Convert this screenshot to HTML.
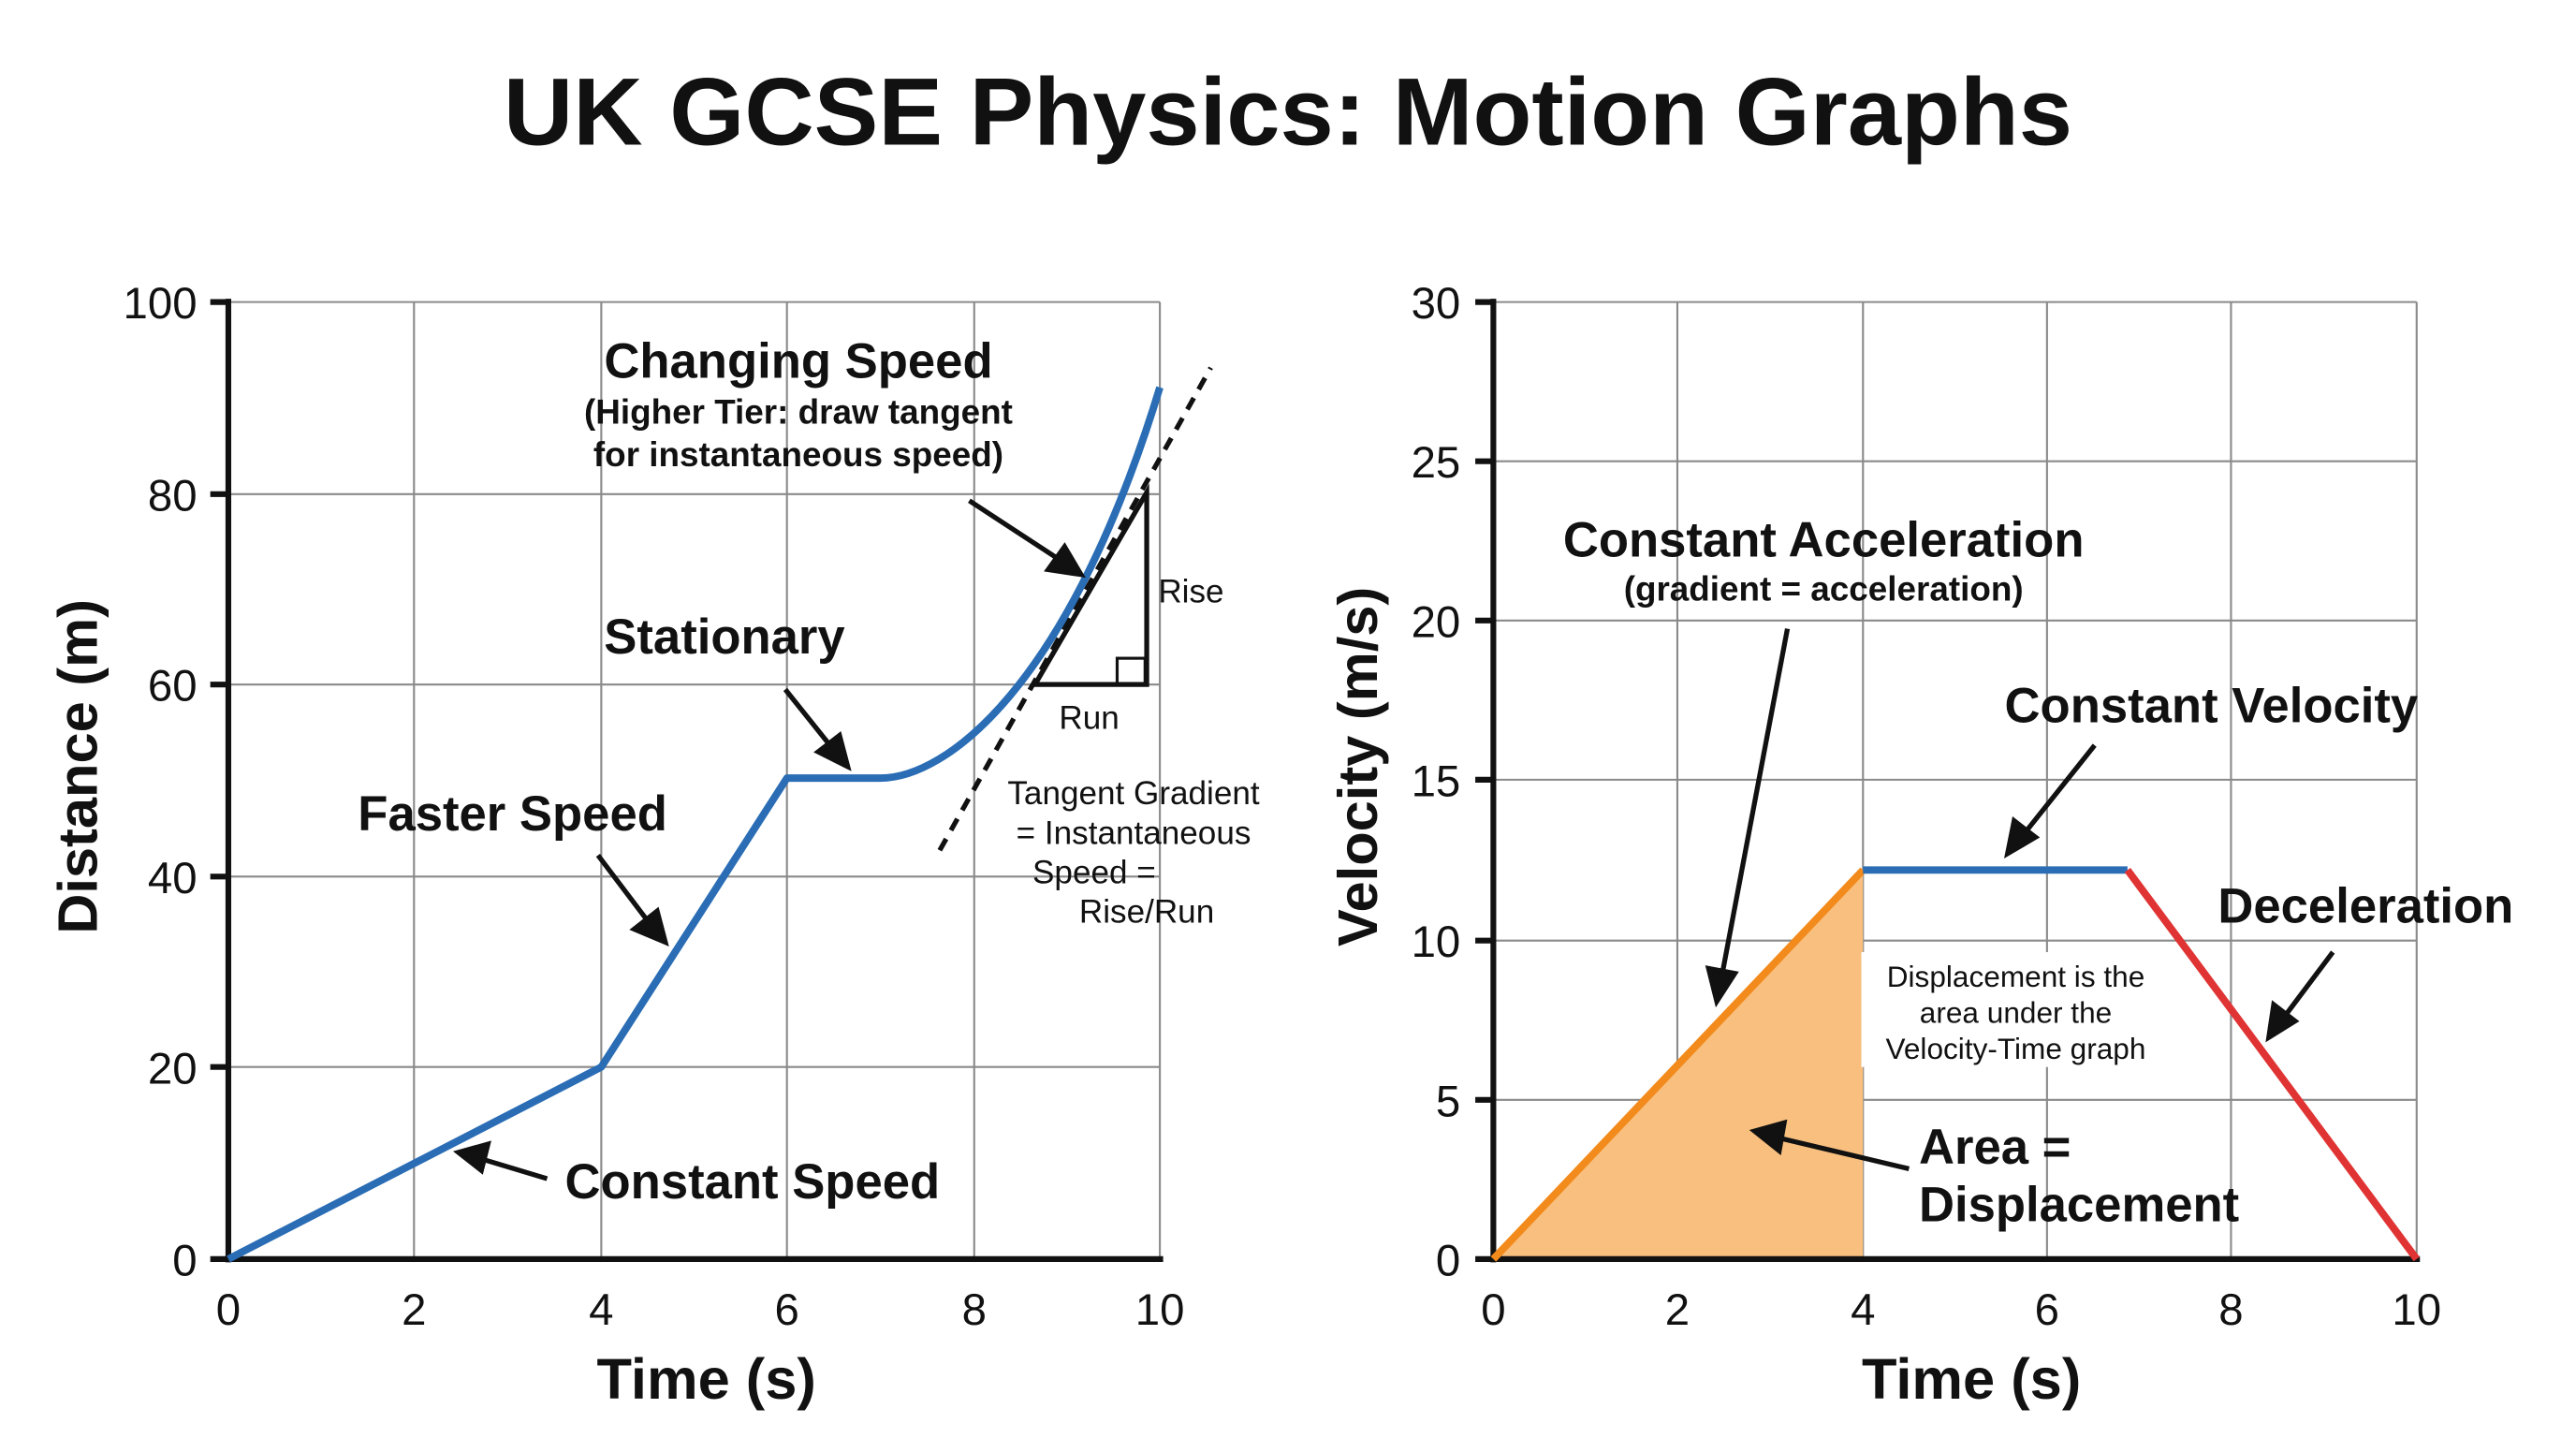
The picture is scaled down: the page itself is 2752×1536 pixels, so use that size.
<!DOCTYPE html>
<html><head><meta charset="utf-8"><style>
html,body{margin:0;padding:0;background:#fff;}
svg{display:block;}
text{font-family:"Liberation Sans","DejaVu Sans",sans-serif;fill:#111;}
.b{font-weight:bold;}
</style></head><body>
<svg width="2752" height="1536" viewBox="0 0 1568 876" preserveAspectRatio="none" xmlns="http://www.w3.org/2000/svg">
<rect width="1568" height="876" fill="#fff"/>
<text x="784" y="88" text-anchor="middle" class="b" font-size="58" textLength="955" lengthAdjust="spacingAndGlyphs">UK GCSE Physics: Motion Graphs</text>

<!-- LEFT CHART -->
<g stroke="#8a8a8a" stroke-width="1.2" fill="none">
<line x1="252" y1="184" x2="252" y2="767"/><line x1="366" y1="184" x2="366" y2="767"/>
<line x1="479" y1="184" x2="479" y2="767"/><line x1="593" y1="184" x2="593" y2="767"/>
<line x1="706" y1="184" x2="706" y2="767"/>
<line x1="139" y1="184" x2="706" y2="184"/><line x1="139" y1="301" x2="706" y2="301"/>
<line x1="139" y1="417" x2="706" y2="417"/><line x1="139" y1="534" x2="706" y2="534"/>
<line x1="139" y1="650" x2="706" y2="650"/>
</g>
<g stroke="#111" stroke-width="3.5">
<line x1="139" y1="182" x2="139" y2="769"/><line x1="137" y1="767" x2="708" y2="767"/>
<line x1="128" y1="184" x2="139" y2="184"/><line x1="128" y1="301" x2="139" y2="301"/><line x1="128" y1="417" x2="139" y2="417"/><line x1="128" y1="534" x2="139" y2="534"/><line x1="128" y1="650" x2="139" y2="650"/><line x1="128" y1="767" x2="139" y2="767"/>
</g>
<g font-size="27" text-anchor="end">
<text x="120" y="194">100</text><text x="120" y="311">80</text><text x="120" y="427">60</text><text x="120" y="544">40</text><text x="120" y="660">20</text><text x="120" y="777">0</text>
</g>
<g font-size="27" text-anchor="middle">
<text x="139" y="807">0</text><text x="252" y="807">2</text><text x="366" y="807">4</text><text x="479" y="807">6</text><text x="593" y="807">8</text><text x="706" y="807">10</text>
</g>
<text x="430" y="852" text-anchor="middle" class="b" font-size="35">Time (s)</text>
<text transform="translate(59,467) rotate(-90)" text-anchor="middle" class="b" font-size="34">Distance (m)</text>

<line x1="572" y1="518" x2="737" y2="224" stroke="#111" stroke-width="3" stroke-dasharray="8,6"/>
<path d="M630,417 L698,417 L698,300 Z" fill="none" stroke="#111" stroke-width="3"/>
<rect x="680" y="401" width="17" height="16" fill="none" stroke="#111" stroke-width="1.8"/>
<path d="M139,767 L366,650 L479,474 L536,474 C575,474 650,420 706,236" fill="none" stroke="#2a6db5" stroke-width="4.5" stroke-linejoin="round"/>

<g stroke="#111" stroke-width="3" fill="#111">
<line x1="590" y1="305" x2="645" y2="341"/><path d="M658,350 L638,347 L648,333 Z"/>
<line x1="478" y1="420" x2="506" y2="455"/><path d="M516,467 L498,458 L511,448 Z"/>
<line x1="364" y1="521" x2="395" y2="562"/><path d="M405,574 L386,566 L400,555 Z"/>
<line x1="333" y1="718" x2="293" y2="706"/><path d="M279,702 L297,697 L293,713 Z"/>
</g>

<text x="486" y="230" text-anchor="middle" class="b" font-size="30">Changing Speed</text>
<text x="486" y="258" text-anchor="middle" class="b" font-size="21">(Higher Tier: draw tangent</text>
<text x="486" y="284" text-anchor="middle" class="b" font-size="21">for instantaneous speed)</text>
<text x="441" y="398" text-anchor="middle" class="b" font-size="30">Stationary</text>
<text x="312" y="506" text-anchor="middle" class="b" font-size="30">Faster Speed</text>
<text x="458" y="730" text-anchor="middle" class="b" font-size="30">Constant Speed</text>
<text x="705" y="367" font-size="20">Rise</text>
<text x="663" y="444" text-anchor="middle" font-size="20">Run</text>
<text x="690" y="490" text-anchor="middle" font-size="20">Tangent Gradient</text>
<text x="690" y="514" text-anchor="middle" font-size="20">= Instantaneous</text>
<text x="666" y="538" text-anchor="middle" font-size="20">Speed =</text>
<text x="698" y="562" text-anchor="middle" font-size="20">Rise/Run</text>

<!-- RIGHT CHART -->
<g stroke="#8a8a8a" stroke-width="1.2" fill="none">
<line x1="1021" y1="184" x2="1021" y2="767"/><line x1="1134" y1="184" x2="1134" y2="767"/>
<line x1="1246" y1="184" x2="1246" y2="767"/><line x1="1358" y1="184" x2="1358" y2="767"/>
<line x1="1471" y1="184" x2="1471" y2="767"/>
<line x1="909" y1="184" x2="1471" y2="184"/><line x1="909" y1="281" x2="1471" y2="281"/>
<line x1="909" y1="378" x2="1471" y2="378"/><line x1="909" y1="475" x2="1471" y2="475"/>
<line x1="909" y1="573" x2="1471" y2="573"/><line x1="909" y1="670" x2="1471" y2="670"/>
</g>
<path d="M909,767 L1134,530 L1134,767 Z" fill="#f8bf7e"/>
<rect x="1133" y="580" width="190" height="70" fill="#fff"/>
<g stroke="#111" stroke-width="3.5">
<line x1="909" y1="182" x2="909" y2="769"/><line x1="907" y1="767" x2="1473" y2="767"/>
<line x1="898" y1="184" x2="909" y2="184"/><line x1="898" y1="281" x2="909" y2="281"/><line x1="898" y1="378" x2="909" y2="378"/><line x1="898" y1="475" x2="909" y2="475"/><line x1="898" y1="573" x2="909" y2="573"/><line x1="898" y1="670" x2="909" y2="670"/><line x1="898" y1="767" x2="909" y2="767"/>
</g>
<g font-size="27" text-anchor="end">
<text x="889" y="194">30</text><text x="889" y="291">25</text><text x="889" y="388">20</text><text x="889" y="485">15</text><text x="889" y="583">10</text><text x="889" y="680">5</text><text x="889" y="777">0</text>
</g>
<g font-size="27" text-anchor="middle">
<text x="909" y="807">0</text><text x="1021" y="807">2</text><text x="1134" y="807">4</text><text x="1246" y="807">6</text><text x="1358" y="807">8</text><text x="1471" y="807">10</text>
</g>
<text x="1200" y="852" text-anchor="middle" class="b" font-size="35">Time (s)</text>
<text transform="translate(838,467) rotate(-90)" text-anchor="middle" class="b" font-size="34">Velocity (m/s)</text>

<line x1="909" y1="767" x2="1134" y2="530" stroke="#f28a1c" stroke-width="4.5"/>
<line x1="1134" y1="530" x2="1295" y2="530" stroke="#2a6db5" stroke-width="4.5"/>
<line x1="1295" y1="530" x2="1471" y2="767" stroke="#e03434" stroke-width="4.5"/>

<g stroke="#111" stroke-width="3" fill="#111">
<line x1="1088" y1="383" x2="1048" y2="595"/><path d="M1045,610 L1040,590 L1056,593 Z"/>
<line x1="1275" y1="454" x2="1232" y2="508"/><path d="M1222,520 L1226,500 L1239,510 Z"/>
<line x1="1420" y1="580" x2="1390" y2="620"/><path d="M1381,632 L1384,612 L1397,622 Z"/>
<line x1="1162" y1="712" x2="1082" y2="693"/><path d="M1068,689 L1086,684 L1083,701 Z"/>
</g>

<text x="1110" y="339" text-anchor="middle" class="b" font-size="30">Constant Acceleration</text>
<text x="1110" y="366" text-anchor="middle" class="b" font-size="21">(gradient = acceleration)</text>
<text x="1346" y="440" text-anchor="middle" class="b" font-size="30">Constant Velocity</text>
<text x="1440" y="562" text-anchor="middle" class="b" font-size="30">Deceleration</text>
<text x="1227" y="601" text-anchor="middle" font-size="18">Displacement is the</text>
<text x="1227" y="623" text-anchor="middle" font-size="18">area under the</text>
<text x="1227" y="645" text-anchor="middle" font-size="18">Velocity-Time graph</text>
<text x="1168" y="709" class="b" font-size="30">Area =</text>
<text x="1168" y="744" class="b" font-size="30">Displacement</text>
</svg>
</body></html>
